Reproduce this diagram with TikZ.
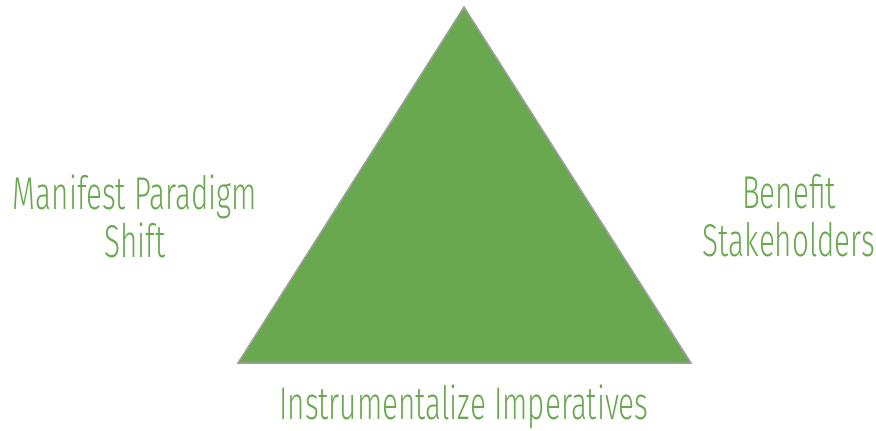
\documentclass[tikz,border=0pt]{standalone}
\usepackage{fontspec}
\setmainfont{Fira Sans}[UprightFont=* Light, FakeStretch=0.645]
\usetikzlibrary{positioning}
\definecolor{leafgreen}{HTML}{6AA84F}
\definecolor{edgegray}{HTML}{A0A0A0}

\begin{document}
\begin{tikzpicture}[
    x=1pt, y=-1pt,
    label/.style={text=leafgreen, font=\fontsize{46}{48}\selectfont, align=center}
]

\useasboundingbox (0,0) rectangle (876,431);

% Triangle
\coordinate (apex) at (464,7);
\coordinate (baseL) at (238,363);
\coordinate (baseR) at (691,363);
\filldraw[fill=leafgreen, draw=edgegray, line width=1.5pt] (apex) -- (baseR) -- (baseL) -- cycle;

% Labels
\node[label] (shift) at (135,216) {Manifest Paradigm\\Shift};
\node[label] (stake) at (789,216) {Benefit\\Stakeholders};
\node[label] (imper) at (464,407) {Instrumentalize Imperatives};

\end{tikzpicture}
\end{document}
